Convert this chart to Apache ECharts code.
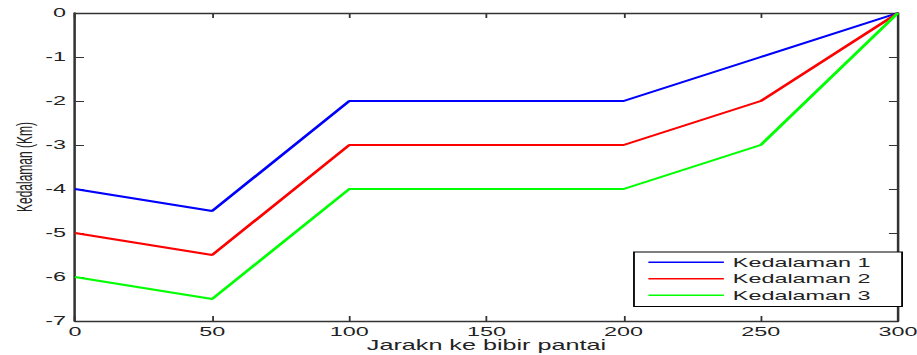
<!DOCTYPE html>
<html>
<head>
<meta charset="utf-8">
<script src="https://cdn.jsdelivr.net/npm/echarts@6/dist/echarts.min.js"></script>
<style>
  html, body { margin: 0; padding: 0; background: #fff; overflow: hidden; }
  /* the figure is laid out at 510px wide and widened to fill the 917px page */
  #chart { width: 510px; height: 355px; transform: scaleX(1.798); transform-origin: 0 0; }
</style>
</head>
<body>
<div id="chart"></div>
<script>
// Distance from the shoreline and depth profiles
const distances = [0, 50, 100, 200, 250, 300];
const depth1 = [-4, -4.5, -2, -2, -1, 0];
const depth2 = [-5, -5.5, -3, -3, -2, 0];
const depth3 = [-6, -6.5, -4, -4, -3, 0];
const seriesNames = ['Kedalaman 1', 'Kedalaman 2', 'Kedalaman 3'];
const seriesColors = ['#0000ff', '#ff0000', '#00ff00'];

const font = 'Liberation Sans';
const textColor = '#222';
const axisColor = '#333';

function pairs(vals) {
  return distances.map((d, i) => [d, vals[i]]);
}

function frameAxis(extra) {
  return Object.assign({
    axisLine: { show: true, onZero: false, lineStyle: { color: axisColor, width: 1.4 } },
    axisTick: { show: true, inside: true, length: 5, lineStyle: { color: axisColor, width: 1 } },
    splitLine: { show: false }
  }, extra);
}

const chart = echarts.init(document.getElementById('chart'), null, { renderer: 'svg' });
chart.setOption({
  animation: false,
  backgroundColor: '#fff',
  grid: { left: 41.7, right: 10.6, top: 13, bottom: 34, containLabel: false, outerBoundsMode: 'none' },
  legend: {
    orient: 'vertical',
    left: 352.6,
    top: 252,
    padding: [2, 17.5, 3, 8],
    itemGap: 0,
    itemWidth: 42,
    itemHeight: 1.6,
    icon: 'rect',
    borderColor: '#000',
    borderWidth: 1,
    borderRadius: 0,
    backgroundColor: '#fff',
    textStyle: { fontFamily: font, fontSize: 13, color: textColor, lineHeight: 16.5 },
    data: seriesNames
  },
  xAxis: [
    frameAxis({
      type: 'value', min: 0, max: 300, interval: 50, position: 'bottom',
      name: 'Jarakn ke bibir pantai',
      nameLocation: 'middle', nameGap: 17, nameMoveOverlap: false,
      nameTextStyle: { fontFamily: font, fontSize: 14, color: textColor },
      axisLabel: { fontFamily: font, fontSize: 13, color: textColor, margin: 4 }
    }),
    frameAxis({
      type: 'value', min: 0, max: 300, interval: 50, position: 'top',
      axisLabel: { show: false }
    })
  ],
  yAxis: [
    frameAxis({
      type: 'value', min: -7, max: 0, interval: 1, position: 'left',
      name: 'Kedalaman (Km)',
      nameLocation: 'middle', nameGap: 22, nameRotate: 90, nameMoveOverlap: false,
      nameTextStyle: { fontFamily: font, fontSize: 12, color: textColor },
      axisLabel: { fontFamily: font, fontSize: 13, color: textColor, margin: 5 }
    }),
    frameAxis({
      type: 'value', min: -7, max: 0, interval: 1, position: 'right',
      axisLabel: { show: false }
    })
  ],
  series: [depth1, depth2, depth3].map((vals, i) => ({
    name: seriesNames[i],
    type: 'line',
    data: pairs(vals),
    showSymbol: false,
    symbol: 'none',
    color: seriesColors[i],
    lineStyle: { color: seriesColors[i], width: 2 },
    itemStyle: { color: seriesColors[i] }
  }))
});
</script>
</body>
</html>
